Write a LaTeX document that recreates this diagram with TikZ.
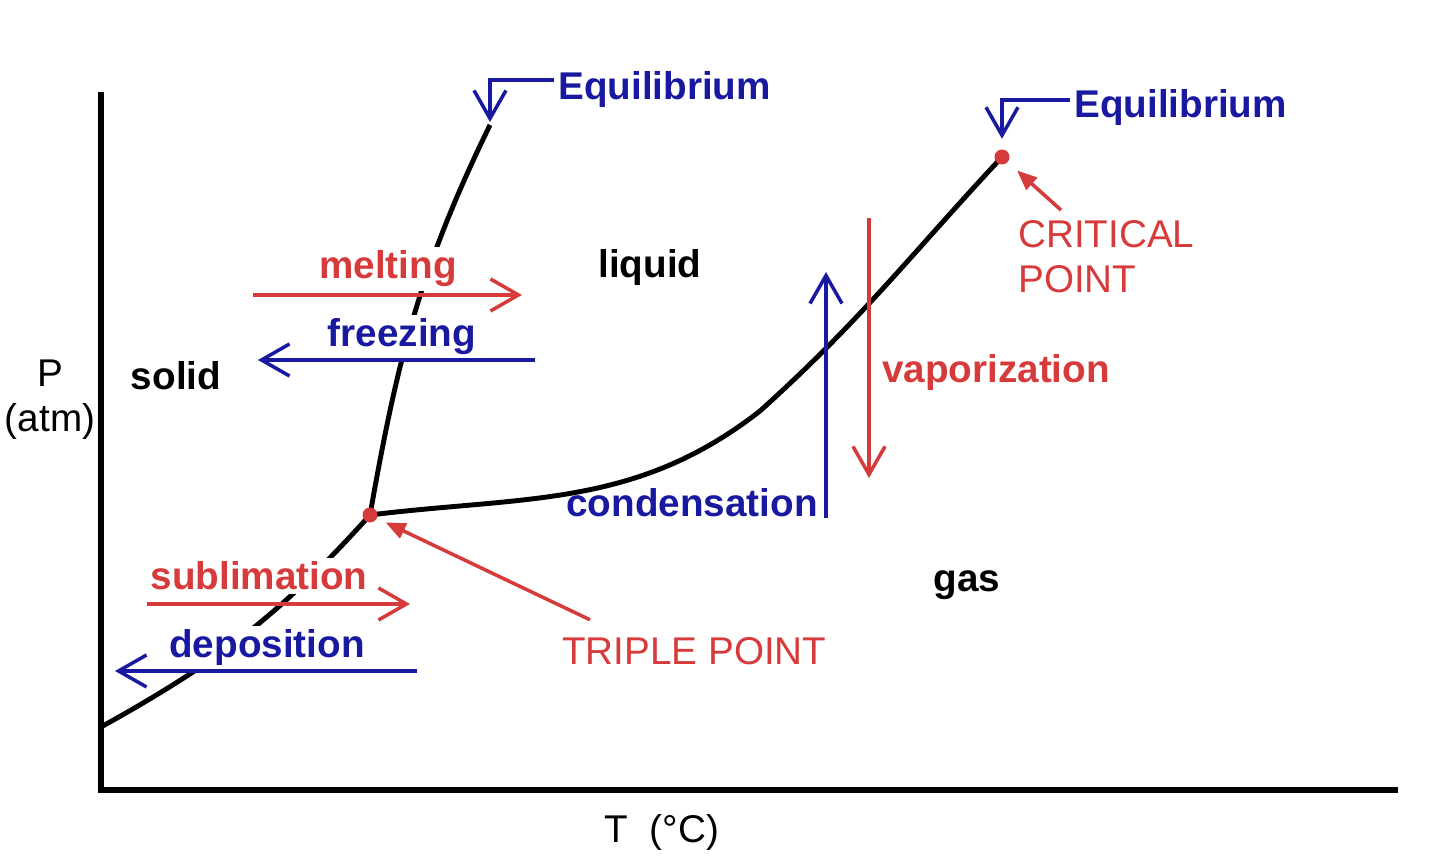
\documentclass[tikz,border=0pt]{standalone}
\usepackage{fontspec}
\setmainfont{Liberation Sans}
\usetikzlibrary{arrows.meta}
\definecolor{labelred}{RGB}{214,58,58}
\definecolor{labelblue}{RGB}{24,24,160}
\tikzstyle{axis}=[line width=1.8pt]
\tikzstyle{phase line}=[line width=1.4pt]
\tikzstyle{special point}=[circle, fill=labelred, inner sep=0pt, minimum size=1.5mm]
\tikzstyle{label}=[font=\fontsize{11}{13}\selectfont, inner sep=1pt, anchor=base]
\tikzstyle{state}=[label, font=\fontsize{11}{13}\selectfont\bfseries]
\tikzstyle{process}=[state]
\tikzstyle{crossing}=[process, fill=white]
\tikzstyle{note}=[label, text=labelred, align=left, anchor=base west]
\tikzstyle{process arrow}=[line width=1pt, -{Straight Barb[length=2.8mm, width=3.2mm]}]
\tikzstyle{pointer}=[line width=1pt, labelred, -{Triangle[length=2mm, width=1.6mm]}]

\begin{document}
\begin{tikzpicture}
  \useasboundingbox (0,0) rectangle (14.4,8.61);
  % axes
  \coordinate (origin) at (1.01,0.71);
  \coordinate (p top) at (1.01,7.69);
  \coordinate (t end) at (13.98,0.71);
  \draw[axis] (p top) -- (origin) -- (t end);
  \node[label] (tlabel) at (6.62,0.18) {T\ \ (°C)};
  \node[label, align=center] (plabel) at (0.50,4.29) {P\\(atm)};

  % phase boundaries
  \coordinate (triple) at (3.70,3.46);
  \coordinate (critical) at (10.02,7.04);
  \coordinate (sg start) at (1.01,1.34);
  \coordinate (sl top) at (4.90,7.36);
  \coordinate (lg bend) at (7.60,4.50);
  \draw[phase line] (sg start) to[out=29, in=228] (triple);
  \draw[phase line] (triple) to[out=80, in=244] (sl top);
  \draw[phase line] (triple) to[out=7, in=218] (lg bend) to[out=42, in=227] (critical);
  \node[special point] (tp) at (triple) {};
  \node[special point] (cp) at (critical) {};

  % states
  \node[state] (solid) at (1.76,4.71) {solid};
  \node[state] (liquid) at (6.50,5.83) {liquid};
  \node[state] (gas) at (9.67,2.69) {gas};

  % equilibrium marks
  \node[process, text=labelblue, anchor=base west] (eq sl) at (5.54,7.61) {Equilibrium};
  \node[process, text=labelblue, anchor=base west] (eq lg) at (10.70,7.43) {Equilibrium};
  \draw[process arrow, labelblue] ([yshift=1mm]eq sl.west) -| ([yshift=0.3mm]sl top);
  \draw[process arrow, labelblue] ([yshift=0.8mm]eq lg.west) -| ([yshift=1mm]cp.north);

  % processes
  \node[crossing, text=labelred] (melting) at (3.88,5.82) {melting};
  \node[crossing, text=labelblue] (freezing) at (4.02,5.14) {freezing};
  \node[crossing, text=labelred] (sublimation) at (2.59,2.71) {sublimation};
  \node[crossing, text=labelblue] (deposition) at (2.67,2.03) {deposition};
  \node[process, text=labelblue] (condensation) at (6.92,3.44) {condensation};
  \node[process, text=labelred, anchor=base west] (vaporization) at (8.78,4.78) {vaporization};
  \coordinate (melt start) at (2.53,5.66);
  \coordinate (melt end) at (5.22,5.66);
  \coordinate (freeze start) at (5.35,5.01);
  \coordinate (freeze end) at (2.58,5.01);
  \coordinate (sub start) at (1.47,2.57);
  \coordinate (sub end) at (4.10,2.57);
  \coordinate (dep start) at (4.17,1.90);
  \coordinate (dep end) at (1.15,1.90);
  \coordinate (vap start) at (8.69,6.43);
  \coordinate (vap end) at (8.69,3.83);
  \coordinate (cond start) at (8.26,3.43);
  \coordinate (cond end) at (8.26,5.89);
  \draw[process arrow, labelred] (melt start) -- (melt end);
  \draw[process arrow, labelblue] (freeze start) -- (freeze end);
  \draw[process arrow, labelred] (sub start) -- (sub end);
  \draw[process arrow, labelblue] (dep start) -- (dep end);
  \draw[process arrow, labelred] (vap start) -- (vap end);
  \draw[process arrow, labelblue] (cond start) -- (cond end);

  % special points
  \node[note] (crit) at (10.14,5.68) {CRITICAL\\POINT};
  \node[note] (tpl) at (5.58,1.96) {TRIPLE POINT};
  \draw[pointer, shorten >=1.2mm] ([shift={(0.47,0.06)}]crit.north west) -- (cp);
  \draw[pointer, shorten >=0.9mm] ([shift={(0.32,0.14)}]tpl.north west) -- (tp);
\end{tikzpicture}
\end{document}
